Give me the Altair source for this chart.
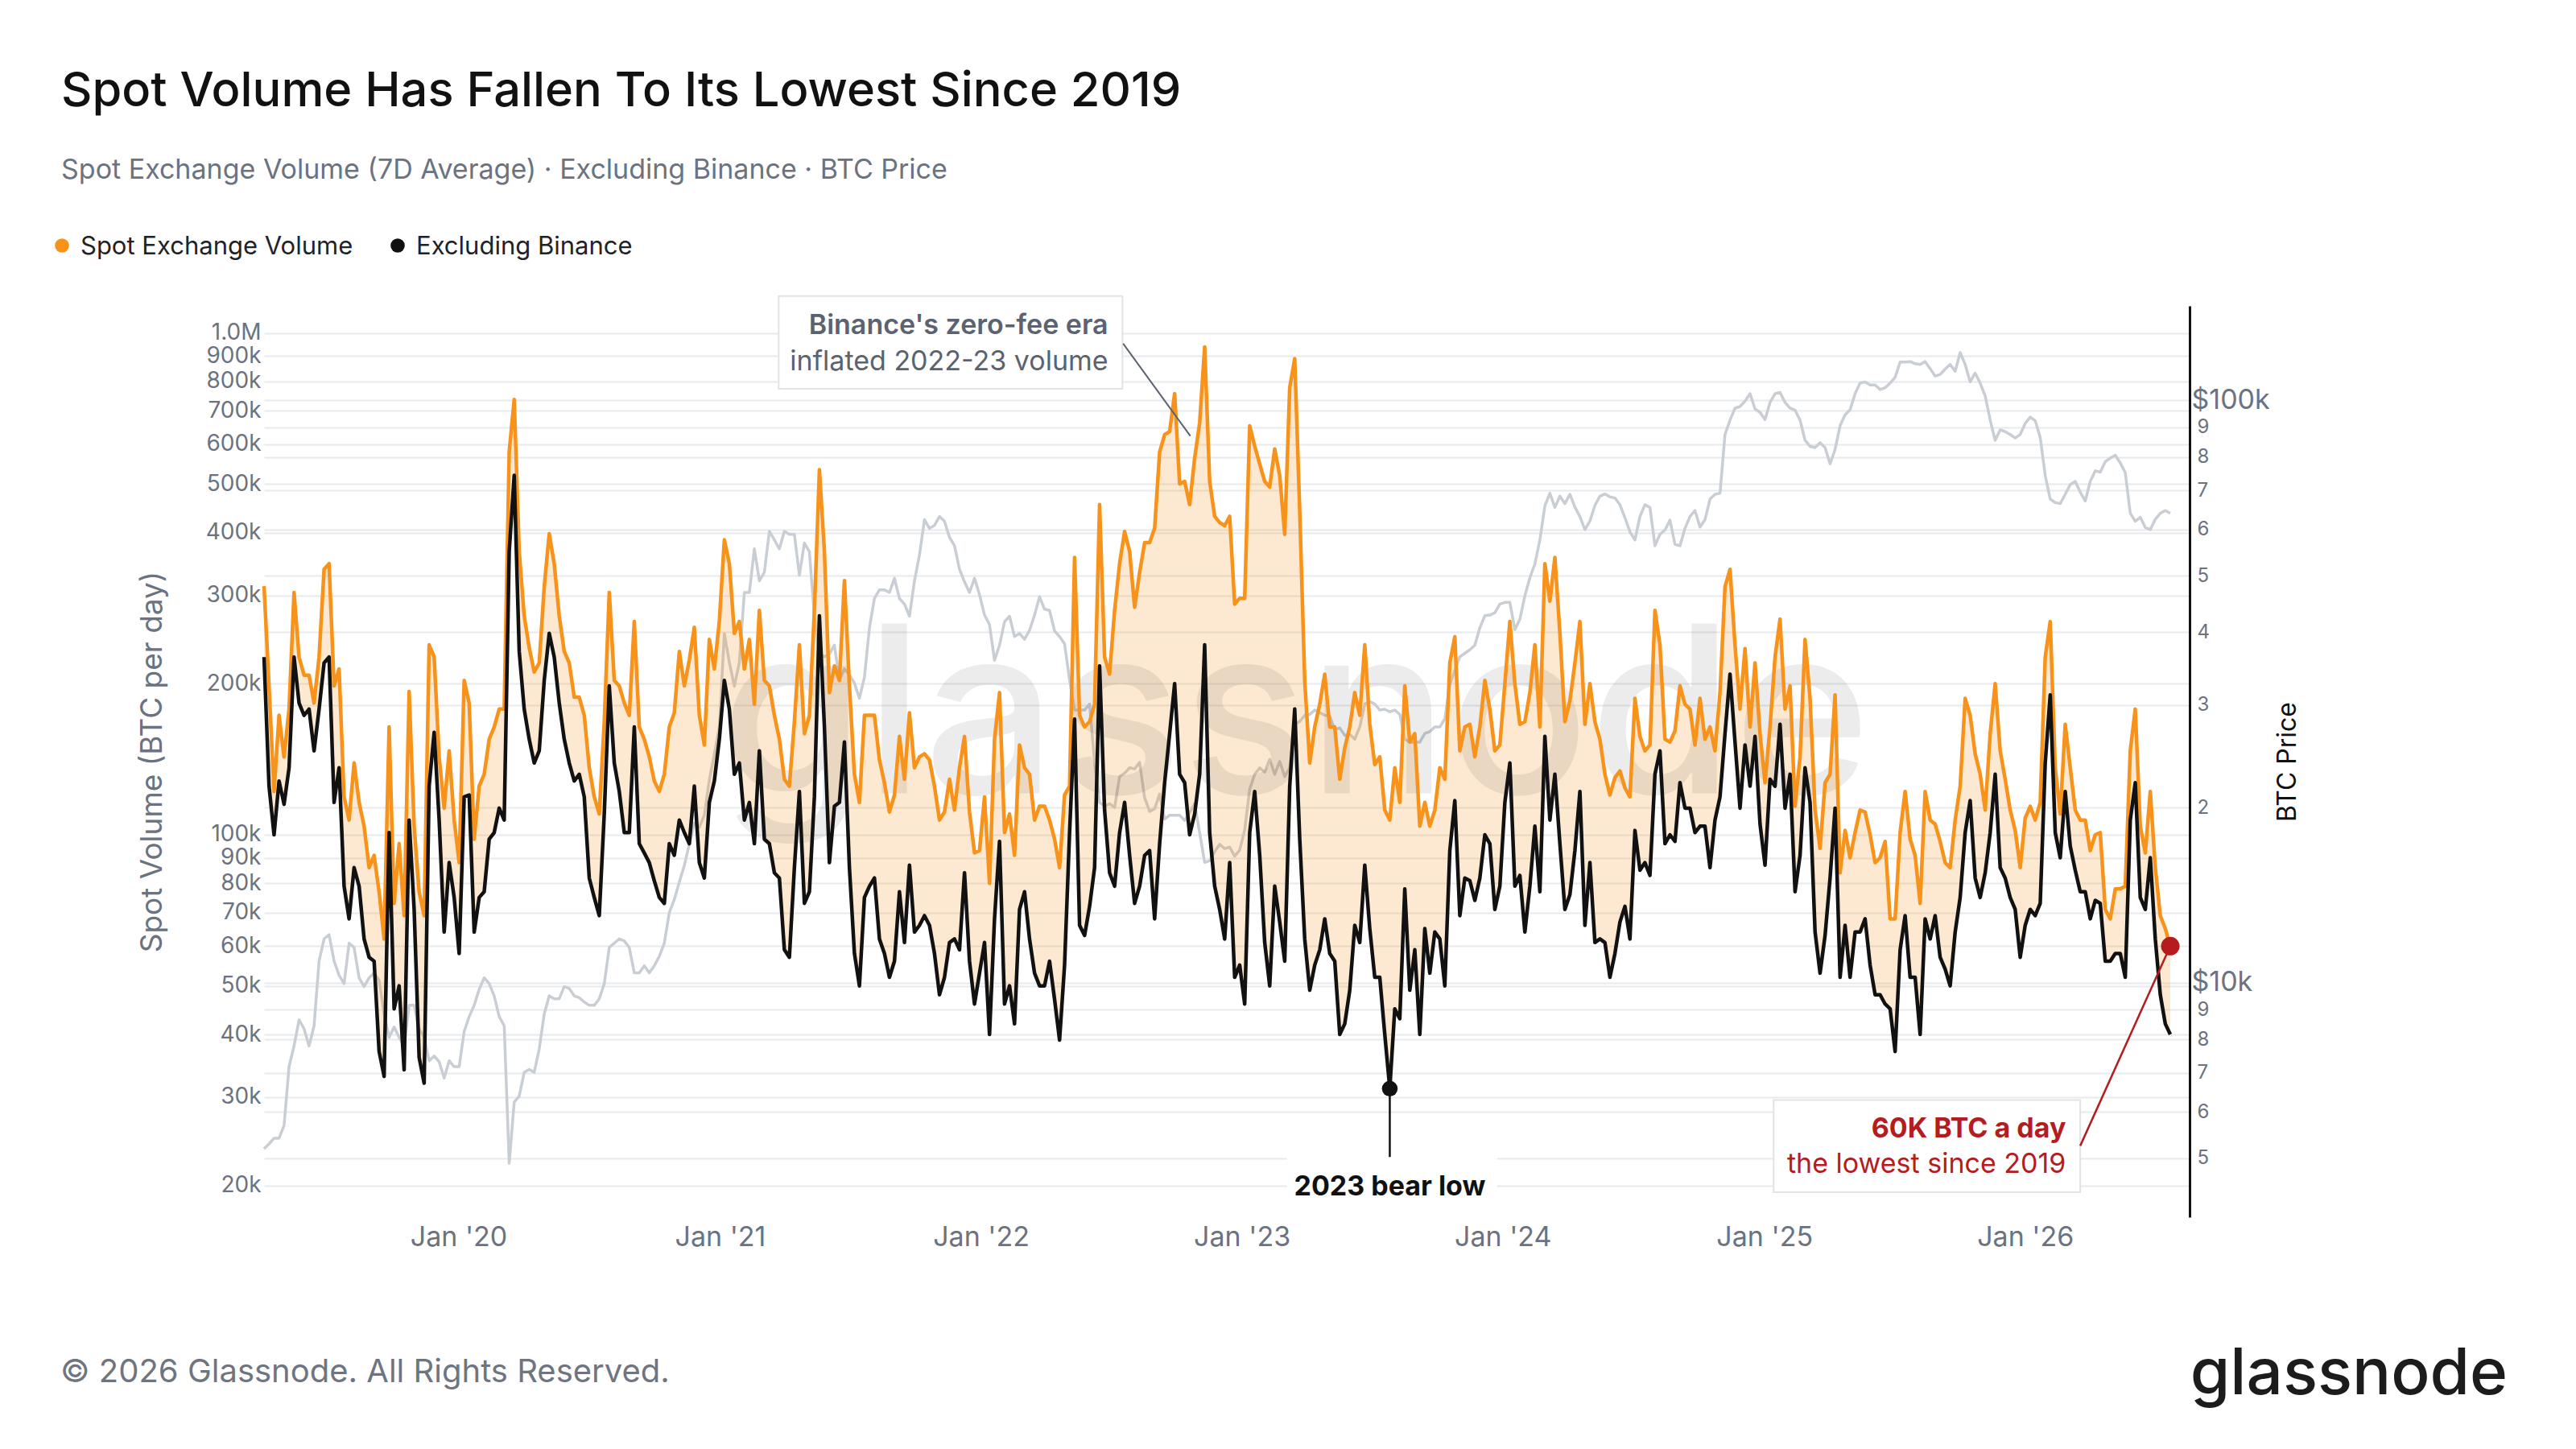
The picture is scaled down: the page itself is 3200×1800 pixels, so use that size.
import altair as alt
import pandas as pd

# ---------------- data (weekly samples) ----------------
START = "2019-04-04"

# Spot exchange volume, 7D average, thousands of BTC per day
spot_k = [
    313, 198, 122, 173, 143, 178, 304, 226, 208, 208,
    183, 226, 338, 347, 198, 214, 119, 107, 139, 116,
    104, 86, 91, 77, 62, 164, 73, 96, 69, 193,
    104, 77, 69, 239, 226, 143, 113, 147, 107, 88,
    203, 183, 98, 125, 132, 155, 164, 178, 178, 579,
    737, 367, 273, 236, 211, 220, 312, 398, 347, 273,
    232, 220, 188, 188, 173, 136, 119, 110, 168, 304,
    203, 198, 183, 173, 266, 164, 155, 143, 128, 122,
    132, 164, 175, 232, 198, 223, 259, 173, 151, 245,
    214, 266, 387, 347, 252, 266,
    214, 245, 182, 280, 203, 198, 173, 155, 129, 125,
    168, 239, 159, 173, 280, 534, 367, 192, 217, 203,
    321, 198, 132, 116, 173, 173, 173, 141, 127, 111,
    120, 157, 129, 175, 136, 143, 145, 141, 125, 107,
    111, 129, 112, 136, 157, 111, 92, 93, 119, 80,
    155, 192, 101, 110, 91, 151, 136, 132, 107, 114,
    114, 107, 98, 86, 120, 125, 357, 173, 164, 168,
    182, 455, 226, 209, 280, 347, 402, 367, 284, 333,
    382, 382, 408, 579, 627, 636, 757, 500, 506, 455,
    563, 662, 938,
    506, 431, 419, 413, 431, 288, 296, 296, 653, 595,
    548, 506, 493, 587, 520, 397, 778, 889, 442, 203,
    139, 164, 182, 209, 164, 164, 129, 149, 164, 192,
    173, 239, 166, 138, 143, 112, 107, 136, 116, 198,
    153, 159, 104, 116, 104, 112, 136, 129, 220, 248,
    147, 164, 166, 143, 164, 203, 178, 147, 151, 200,
    266, 200, 166, 168, 192, 239, 164, 347, 292, 357,
    252, 168, 185, 220, 266, 166, 200, 168, 155, 132,
    120, 130, 134, 124, 119, 187, 157, 147, 151, 280,
    239, 155, 153, 161, 198, 182,
    178, 151, 187, 155, 164, 147, 192, 312, 338, 239,
    178, 235, 164, 220, 159, 127, 164, 226, 269, 178,
    198, 114, 143, 245, 187, 112, 94, 127, 132, 190,
    84, 102, 90, 101, 112, 111, 100, 88, 90, 97,
    68, 68, 101, 122, 98, 91, 73, 122, 107, 105,
    97, 88, 86, 107, 125, 187, 173, 145, 132, 112,
    159, 200, 147, 129, 112, 102, 86, 108, 114, 107,
    116, 226, 266, 136, 110, 166, 136, 112, 107, 107,
    93, 100, 101, 71, 68, 78, 78, 79, 147, 178,
    104, 92, 122, 86, 69, 65, 60,
]

# Spot volume excluding Binance, thousands of BTC per day
exbin_k = [
    226, 125, 100, 128, 115, 136, 226, 183, 173, 178,
    147, 178, 220, 226, 116, 136, 79, 68, 86, 79,
    62, 57, 56, 37, 33, 101, 45, 50, 34, 107,
    71, 36, 32, 125, 160, 107, 64, 88, 75, 58,
    119, 120, 64, 75, 77, 98, 101, 113, 107, 367,
    520, 232, 178, 155, 139, 147, 203, 252, 226, 183,
    155, 139, 128, 132, 119, 82, 75, 69, 110, 198,
    139, 122, 101, 101, 164, 96, 92, 88, 81, 75,
    73, 96, 91, 107, 101, 96, 125, 88, 82, 116,
    128, 155, 203, 178, 132, 139,
    107, 116, 96, 147, 98, 96, 84, 82, 59, 57,
    86, 122, 73, 77, 119, 273, 164, 88, 114, 116,
    153, 86, 58, 50, 75, 79, 82, 62, 58, 52,
    56, 77, 61, 87, 64, 66, 69, 66, 58, 48,
    52, 61, 62, 59, 84, 56, 46, 53, 61, 40,
    68, 97, 46, 50, 42, 71, 77, 62, 53, 50,
    50, 56, 47, 39, 55, 101, 170, 66, 63, 72,
    86, 217, 112, 84, 79, 101, 116, 91, 73, 79,
    91, 93, 68, 96, 127, 159, 200, 132, 127, 100,
    110, 132, 239,
    101, 79, 71, 62, 88, 52, 55, 46, 101, 122,
    91, 61, 50, 79, 67, 56, 125, 178, 98, 62,
    49, 55, 59, 68, 58, 56, 40, 42, 49, 66,
    61, 87, 65, 52, 52, 40, 31.2, 45, 43, 78,
    49, 59, 40, 65, 53, 64, 62, 50, 93, 117,
    69, 82, 81, 74, 82, 100, 96, 71, 79, 116,
    139, 79, 83, 64, 79, 104, 77, 157, 107, 132,
    96, 71, 76, 93, 122, 66, 88, 61, 62, 61,
    52, 58, 67, 72, 62, 102, 85, 88, 83, 132,
    147, 96, 100, 97, 127, 113,
    113, 101, 104, 104, 86, 107, 119, 159, 209, 153,
    113, 151, 125, 157, 105, 87, 129, 125, 166, 113,
    132, 77, 91, 136, 116, 64, 53, 63, 82, 113,
    52, 66, 52, 64, 64, 68, 55, 48, 48, 46,
    45, 37, 59, 69, 52, 52, 40, 68, 62, 69,
    57, 54, 50, 64, 75, 101, 117, 82, 75, 84,
    101, 132, 86, 82, 75, 71, 57, 66, 71, 69,
    73, 139, 190, 101, 90, 122, 95, 85, 77, 77,
    68, 74, 73, 56, 56, 58, 58, 52, 107, 127,
    75, 71, 90, 62, 48, 42, 40,
]

# BTC price, thousands of USD
price_k = [
    5.19, 5.29, 5.41, 5.41, 5.69, 7.18, 7.79, 8.64, 8.34, 7.79,
    8.44, 10.9, 11.9, 12.1, 10.9, 10.3, 9.97, 11.7, 11.5, 10.2,
    9.85, 10.2, 10.4, 10.1, 8.84, 8.06, 8.4, 8.06, 7.79, 9.15,
    9.15, 8.34, 8.06, 7.35, 7.49, 7.32, 6.86, 7.35, 7.18, 7.18,
    8.25, 8.75, 9.15, 9.75, 10.2, 9.97, 9.5, 8.75, 8.44, 4.9,
    6.24, 6.39, 7.02, 7.1, 7.02, 7.7, 8.84, 9.5, 9.39, 9.39,
    9.85, 9.78, 9.5, 9.43, 9.27, 9.15, 9.15, 9.39, 9.97, 11.5,
    11.7, 11.9, 11.8, 11.5, 10.4, 10.4, 10.7, 10.4, 10.7, 11.1,
    11.7, 13.2, 13.9, 14.9, 15.9, 17.3, 18.8, 18.5, 19.4, 22.3,
    24.7, 27.5, 39.8, 35.5, 32.3, 35.5,
    46.8, 46.8, 55.6, 49, 50.7, 59.6, 57.6, 55.6, 59.6, 58.9,
    58.9, 50.1, 56.9, 55, 42.6, 36.7, 36.3, 36.7, 38, 33.1,
    34.6, 33.8, 32.7, 30.8, 33.5, 40.7, 45.7, 47.3, 47.3, 46.8,
    49.5, 45.7, 44.7, 42.6, 49, 54.3, 62.4, 60.3, 61, 63.2,
    62, 58.2, 56.3, 51.3, 48.8, 46.8, 49.5, 46.4, 42.8, 41.2,
    35.8, 38, 41.7, 42.6, 39.3, 39.8, 38.9, 40.3, 42.8, 46,
    43.8, 43.6, 40.2, 39.3, 38.2, 33.1, 29.4, 29.4, 29.4, 30.1,
    23.9, 20.4, 20.1, 20.3, 20, 22.6, 22.9, 23.4, 23.3, 23.9,
    20.8, 19.7, 19.9, 21.1, 19.1, 19.4, 19.4, 19.4, 19, 19.6,
    20.3, 18.1, 16.1,
    16.2, 16.8, 17.3, 17, 17.1, 16.5, 16.9, 18.3, 21.5, 22.8,
    23.4, 23, 24.2, 22.8, 24, 22.6, 23.4, 27.8, 28.1, 28.8,
    28.9, 29.4, 29.1, 28.8, 28.7, 27.2, 27.4, 26.6, 26.7, 26.2,
    27.5, 30.1, 30.4, 30.1, 29.4, 29.5, 29.2, 29.4, 28.9, 26.2,
    25.9, 25.9, 25.9, 26.8, 27, 27.5, 27.5, 28.4, 32.5, 34.4,
    36.3, 36.8, 37.3, 38, 40.7, 42.7, 42.8, 43.2, 44.7, 45,
    45, 40.4, 42.1, 46.2, 49.6, 52.4, 57.6, 65.9, 69.3, 65.5,
    68.5, 66.5, 69, 65.6, 63.2, 60, 62.1, 66, 68.5, 69.1,
    68.3, 68, 66.2, 62.9, 59.5, 57.6, 63.2, 66.2, 65.5, 56.3,
    58.9, 59.9, 62.3, 56.6, 56.3, 60.3,
    63.2, 64.7, 60.6, 62.4, 67.7, 69, 69.3, 87.4, 92.5, 97,
    97.6, 99.7, 102.7, 96.7, 95.4, 92.7, 99.2, 102.7, 103.2, 99.2,
    97, 96.2, 92.5, 85.4, 83.4, 83, 84.6, 83, 77.8, 82.4,
    90.5, 94.5, 96.4, 102.7, 107.1, 107.6, 106.3, 106.3, 104.4, 105.1,
    107.1, 109.6, 116.4, 116.4, 116.6, 115.6, 115.3, 116.6, 113.4, 110.1,
    110.8, 113.2, 115.3, 112.2, 120.8, 115.3, 107.6, 111.4, 107.1, 101.8,
    92.5, 85.4, 89, 88.4, 87.4, 86.2, 87.4, 91.3, 93.6, 92.3,
    86.4, 74.3, 67.7, 66.8, 66.5, 69, 71.7, 72.6, 69.6, 67.2,
    72.6, 75.7, 75.3, 78.5, 79.6, 80.5, 78.1, 75.2, 64, 62,
    63, 60.5, 60, 62.5, 64, 64.7, 64,
]

series_names = ["Spot Exchange Volume", "Excluding Binance"]
series_colors = ["#f7931a", "#111111"]
vol_ticks = [20000, 30000, 40000, 50000, 60000, 70000, 80000, 90000, 100000,
             200000, 300000, 400000, 500000, 600000, 700000, 800000, 900000, 1000000]
price_ticks = [5000, 6000, 7000, 8000, 9000, 10000, 20000, 30000, 40000, 50000,
               60000, 70000, 80000, 90000, 100000]
year_ticks = [2020, 2021, 2022, 2023, 2024, 2025, 2026]

# annotation anchors (dates / values)
binance_box_x = ["2021-03-24", "2022-07-18"]
binance_box_y = [1184000, 774000]
binance_text_x = "2022-06-28"
binance_text_y = [995000, 843000]
binance_lines = ["Binance's zero-fee era", "inflated 2022-23 volume"]
binance_pointer = (["2022-07-19", "2022-10-21"], [952000, 623000])

bear_date = "2023-07-27"
bear_low = 31200
bear_stem_end = 22800
bear_label_y = 19100
bear_bg_x = ["2023-03-05", "2023-12-24"]
bear_bg_y = [22800, 17900]

low_date = "2026-07-23"
low_value = 60000
low_box_x = ["2025-01-14", "2026-03-19"]
low_box_y = [29600, 19400]
low_text_x = "2026-02-27"
low_text_y = [24900, 21200]
low_lines = ["60K BTC a day", "the lowest since 2019"]
low_pointer_start = ("2026-03-19", 24000)

watermark_at = ("2023-03-17", 121000)

# ---------------- styling ----------------
FONT = "Inter"
GRAY = "#6b7280"
GRID = "#e8e9ec"
RED = "#b41c1f"
W, H = 2392, 1132
VOL_DOM = [17300, 1132000]
PRICE_DOM = [3960, 145300]

df = pd.DataFrame({
    "date": pd.date_range(START, periods=len(spot_k), freq="7D"),
    series_names[0]: [v * 1000 for v in spot_k],
    series_names[1]: [v * 1000 for v in exbin_k],
    "price": [v * 1000 for v in price_k],
})

XSCALE = alt.Scale(domain=[alt.DateTime(year=2019, month=4, date=4),
                           alt.DateTime(year=2026, month=8, date=19)])
X_AXIS = alt.Axis(values=[alt.DateTime(year=y, month=1, date=1) for y in year_ticks],
                  format="%b '%y", labelFontSize=34, labelColor=GRAY, labelFont=FONT,
                  labelPadding=8, domain=False, ticks=False, grid=False,
                  labelOverlap=False, title=None)


def X(field):
    return alt.X(field, type="temporal", scale=XSCALE, axis=X_AXIS)


def VY(field, axis=None):
    return alt.Y(field, type="quantitative",
                 scale=alt.Scale(type="log", domain=VOL_DOM), axis=axis)


def T(d):
    return pd.Timestamp(d)


left_axis = alt.Axis(
    orient="left", values=vol_ticks,
    labelExpr="datum.value >= 1000000 ? '1.0M' : format(datum.value / 1000, 'd') + 'k'",
    labelFontSize=28, labelColor=GRAY, labelFont=FONT, labelPadding=4,
    labelOverlap=False, domain=False, ticks=False,
    grid=True, gridColor=GRID, gridWidth=2,
    title="Spot Volume (BTC per day)", titleFontSize=37, titleColor=GRAY,
    titleFont=FONT, titleFontWeight="normal", titleX=-139, titleY=H / 2,
    titleAngle=270, titleAlign="center", titleBaseline="middle",
)

major_test = "datum.value == 10000 || datum.value == 100000"
right_axis = alt.Axis(
    orient="right", values=price_ticks,
    labelExpr=("datum.value == 100000 ? '$100k' : datum.value == 10000 ? '$10k' : "
               "datum.value < 10000 ? format(datum.value / 1000, 'd') : format(datum.value / 10000, 'd')"),
    labelFontSize={"condition": {"test": major_test, "value": 34}, "value": 24},
    labelPadding={"condition": {"test": major_test, "value": 2}, "value": 9},
    labelColor=GRAY, labelFont=FONT, labelOverlap=False,
    domain=True, domainColor="#111111", domainWidth=3, ticks=False,
    grid=True, gridColor=GRID, gridWidth=2,
    title="BTC Price", titleFontSize=32, titleColor="#111111", titleFont=FONT,
    titleFontWeight="normal", titleX=121, titleY=H / 2, titleAngle=270,
    titleAlign="center", titleBaseline="middle",
)

# ---------------- layers ----------------
price_line = alt.Chart(df).mark_line(color="#c9cdd4", strokeWidth=3.5, strokeJoin="round").encode(
    x=X("date"),
    y=alt.Y("price", type="quantitative", scale=alt.Scale(type="log", domain=PRICE_DOM), axis=right_axis),
)

band = alt.Chart(df).mark_area(color="#f7931a", opacity=0.2).encode(
    x=X("date"), y=VY(series_names[0]), y2=alt.Y2(series_names[1]),
)

watermark = alt.Chart(pd.DataFrame({"d": [T(watermark_at[0])], "v": [watermark_at[1]], "t": ["glassnode"]})).mark_text(
    font=FONT, fontSize=290, fontWeight=500, color="#000000", opacity=0.07,
    align="center", baseline="alphabetic",
).encode(x=X("d"), y=VY("v"), text="t:N")

lines = alt.Chart(df).transform_fold(series_names, as_=["series", "vol"]).mark_line(
    strokeWidth=4.5, strokeJoin="round"
).encode(
    x=X("date"),
    y=VY("vol", axis=left_axis),
    color=alt.Color("series:N", scale=alt.Scale(domain=series_names, range=series_colors), legend=None),
)

# Binance annotation
b_box = alt.Chart(pd.DataFrame({"x1": [T(binance_box_x[0])], "x2": [T(binance_box_x[1])],
                                "y1": [binance_box_y[0]], "y2": [binance_box_y[1]]})).mark_rect(
    fill="white", stroke="#e1e3e6", strokeWidth=2).encode(
    x=X("x1"), x2=alt.X2("x2"), y=VY("y1"), y2=alt.Y2("y2"))
b_ptr = alt.Chart(pd.DataFrame({"x1": [T(binance_pointer[0][0])], "x2": [T(binance_pointer[0][1])],
                                "y1": [binance_pointer[1][0]], "y2": [binance_pointer[1][1]]})).mark_rule(
    color="#5b6270", strokeWidth=2).encode(
    x=X("x1"), x2=alt.X2("x2"), y=VY("y1"), y2=alt.Y2("y2"))
b_t1 = alt.Chart(pd.DataFrame({"d": [T(binance_text_x)], "v": [binance_text_y[0]], "t": [binance_lines[0]]})).mark_text(
    font=FONT, fontSize=34, fontWeight=600, color="#5b6270", align="right", baseline="alphabetic").encode(
    x=X("d"), y=VY("v"), text="t:N")
b_t2 = alt.Chart(pd.DataFrame({"d": [T(binance_text_x)], "v": [binance_text_y[1]], "t": [binance_lines[1]]})).mark_text(
    font=FONT, fontSize=34, fontWeight=400, color="#5b6270", align="right", baseline="alphabetic").encode(
    x=X("d"), y=VY("v"), text="t:N")

# 2023 bear low
bear_bg = alt.Chart(pd.DataFrame({"x1": [T(bear_bg_x[0])], "x2": [T(bear_bg_x[1])],
                                  "y1": [bear_bg_y[0]], "y2": [bear_bg_y[1]]})).mark_rect(fill="white").encode(
    x=X("x1"), x2=alt.X2("x2"), y=VY("y1"), y2=alt.Y2("y2"))
bear_stem = alt.Chart(pd.DataFrame({"d": [T(bear_date)], "y1": [bear_low], "y2": [bear_stem_end]})).mark_rule(
    color="#111111", strokeWidth=2.5).encode(x=X("d"), y=VY("y1"), y2=alt.Y2("y2"))
bear_dot = alt.Chart(pd.DataFrame({"d": [T(bear_date)], "v": [bear_low]})).mark_point(
    filled=True, size=380, color="#111111", opacity=1).encode(x=X("d"), y=VY("v"))
bear_txt = alt.Chart(pd.DataFrame({"d": [T(bear_date)], "v": [bear_label_y], "t": ["2023 bear low"]})).mark_text(
    font=FONT, fontSize=34, fontWeight=700, color="#111111", align="center", baseline="alphabetic").encode(
    x=X("d"), y=VY("v"), text="t:N")

# lowest since 2019
low_box = alt.Chart(pd.DataFrame({"x1": [T(low_box_x[0])], "x2": [T(low_box_x[1])],
                                  "y1": [low_box_y[0]], "y2": [low_box_y[1]]})).mark_rect(
    fill="white", stroke="#e1e3e6", strokeWidth=2).encode(
    x=X("x1"), x2=alt.X2("x2"), y=VY("y1"), y2=alt.Y2("y2"))
low_ptr = alt.Chart(pd.DataFrame({"x1": [T(low_pointer_start[0])], "x2": [T(low_date)],
                                  "y1": [low_pointer_start[1]], "y2": [low_value]})).mark_rule(
    color=RED, strokeWidth=2.5).encode(
    x=X("x1"), x2=alt.X2("x2"), y=VY("y1"), y2=alt.Y2("y2"))
low_dot = alt.Chart(pd.DataFrame({"d": [T(low_date)], "v": [low_value]})).mark_point(
    filled=True, size=530, color=RED, opacity=1).encode(x=X("d"), y=VY("v"))
low_t1 = alt.Chart(pd.DataFrame({"d": [T(low_text_x)], "v": [low_text_y[0]], "t": [low_lines[0]]})).mark_text(
    font=FONT, fontSize=34, fontWeight=700, color=RED, align="right", baseline="alphabetic").encode(
    x=X("d"), y=VY("v"), text="t:N")
low_t2 = alt.Chart(pd.DataFrame({"d": [T(low_text_x)], "v": [low_text_y[1]], "t": [low_lines[1]]})).mark_text(
    font=FONT, fontSize=34, fontWeight=400, color=RED, align="right", baseline="alphabetic").encode(
    x=X("d"), y=VY("v"), text="t:N")


# page texts (title, subtitle, legend, footer, logo)
def page_text(text, x, y, size, color, weight=400, align="left"):
    return alt.Chart(pd.DataFrame({"t": [text]})).mark_text(
        font=FONT, fontSize=size, fontWeight=weight, color=color, align=align, baseline="alphabetic"
    ).encode(text="t:N", x=alt.value(x), y=alt.value(y))


def legend_dot(color, x, y):
    return alt.Chart(pd.DataFrame({"k": [0]})).mark_circle(size=310, opacity=1, color=color).encode(
        x=alt.value(x), y=alt.value(y))


title = page_text("Spot Volume Has Fallen To Its Lowest Since 2019", -252, -248, 59.6, "#111111", 500)
subtitle = page_text("Spot Exchange Volume (7D Average) · Excluding Binance · BTC Price", -252, -158, 34, GRAY)
leg_dot1 = legend_dot(series_colors[0], -251, -75)
leg_txt1 = page_text(series_names[0], -228, -64, 31, "#1f2328")
leg_dot2 = legend_dot(series_colors[1], 166, -75)
leg_txt2 = page_text(series_names[1], 189, -64, 31, "#1f2328")
footer = page_text("© 2026 Glassnode. All Rights Reserved.", -253, 1337, 40, "#6f7580")
logo = page_text("glassnode", 2787, 1352, 80, "#1c1c1c", 500, "right")

chart = alt.layer(
    price_line, band, watermark, lines,
    b_box, b_ptr, b_t1, b_t2,
    bear_bg, bear_stem, bear_dot, bear_txt,
    low_box, low_ptr, low_dot, low_t1, low_t2,
    title, subtitle, leg_dot1, leg_txt1, leg_dot2, leg_txt2, footer, logo,
).resolve_scale(y="independent").properties(
    width=W, height=H,
    autosize=alt.AutoSizeParams(type="none"),
    padding={"left": 320, "top": 372, "right": 472, "bottom": 280},
).configure(font=FONT, background="white").configure_view(stroke=None)

chart.save("out.html", embed_options={"renderer": "svg", "actions": False})
